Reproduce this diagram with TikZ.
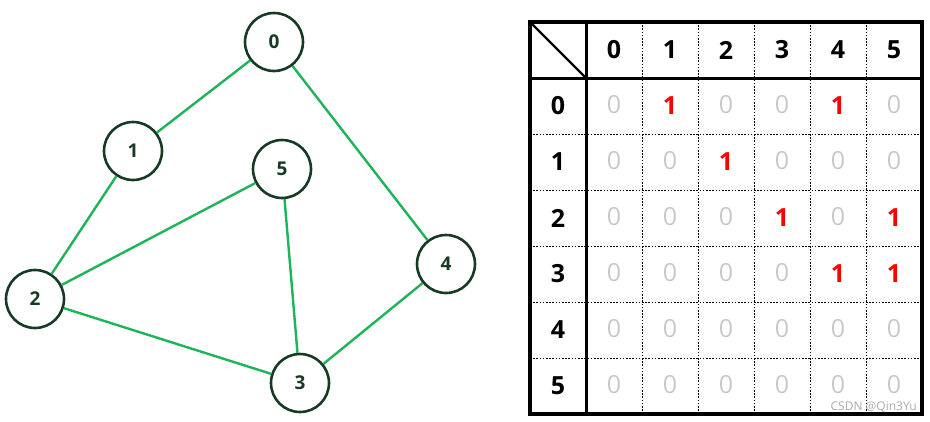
\documentclass[tikz,border=0pt]{standalone}
\usepackage{fontspec}
\setmainfont{Open Sans}
\definecolor{edgegreen}{HTML}{1DB45A}
\definecolor{nodedark}{HTML}{173A25}
\definecolor{zerogray}{HTML}{C8C8C8}
\definecolor{onered}{HTML}{FF0000}
\begin{document}
\begin{tikzpicture}[x=1pt,y=-1pt,
  vertex/.style={circle,draw=nodedark,line width=2.6pt,minimum size=58pt,inner sep=0pt,
    font=\fontsize{19}{19}\selectfont\bfseries,text=nodedark},
  edge/.style={draw=edgegreen,line width=2.4pt},
  cell/.style={inner sep=1pt},
  head/.style={cell,font=\fontsize{25}{25}\selectfont\bfseries,text=black},
  zero/.style={cell,font=\fontsize{25}{25}\selectfont,text=zerogray},
  one/.style={cell,font=\fontsize{25}{25}\selectfont\bfseries,text=onered},
  dotline/.style={line width=1pt,dash pattern=on 1.6pt off 1.6pt},
  thick line/.style={line width=3pt}]
\useasboundingbox (0,0) rectangle (930,421);
% graph
\node[vertex] (v0) at (274,42) {0};
\node[vertex] (v1) at (133,151) {1};
\node[vertex] (v5) at (282,169) {5};
\node[vertex] (v4) at (446,264) {4};
\node[vertex] (v2) at (35,299) {2};
\node[vertex] (v3) at (300,383) {3};
\draw[edge] (v0) -- (v1);
\draw[edge] (v0) -- (v4);
\draw[edge] (v1) -- (v2);
\draw[edge] (v2) -- (v5);
\draw[edge] (v2) -- (v3);
\draw[edge] (v5) -- (v3);
\draw[edge] (v3) -- (v4);
% table grid
\foreach \j in {1,...,5} \draw[dotline] (586+56*\j,22) -- (586+56*\j,414);
\foreach \i in {1,...,5} \draw[dotline] (530,78+56*\i) -- (922,78+56*\i);
\draw[thick line] (530,78) -- (922,78);
\draw[thick line] (586,22) -- (586,414);
\draw[line width=2.4pt] (530,22) -- (586,78);
\draw[line width=4pt] (530,22) rectangle (922,414);
% headers
\foreach \j in {0,...,5} {
  \node[head] (h\j) at (614+56*\j,50) {\j};
  \node[head] (r\j) at (558,106+56*\j) {\j};
}
% values
\foreach \r/\row in {0/{0,1,0,0,1,0},1/{0,0,1,0,0,0},2/{0,0,0,1,0,1},3/{0,0,0,0,1,1},4/{0,0,0,0,0,0},5/{0,0,0,0,0,0}} {
  \foreach \v [count=\c from 0] in \row {
    \ifnum\v=1
      \node[one] (m\r-\c) at (614+56*\c,106+56*\r) {1};
    \else
      \node[zero] (m\r-\c) at (614+56*\c,105+56*\r) {0};
    \fi
  }
}
\node[font=\fontsize{12}{12}\selectfont,text=zerogray!85!black,anchor=east,inner sep=0pt] (wm) at (917,407) {CSDN @Qin3Yu};
\end{tikzpicture}
\end{document}
